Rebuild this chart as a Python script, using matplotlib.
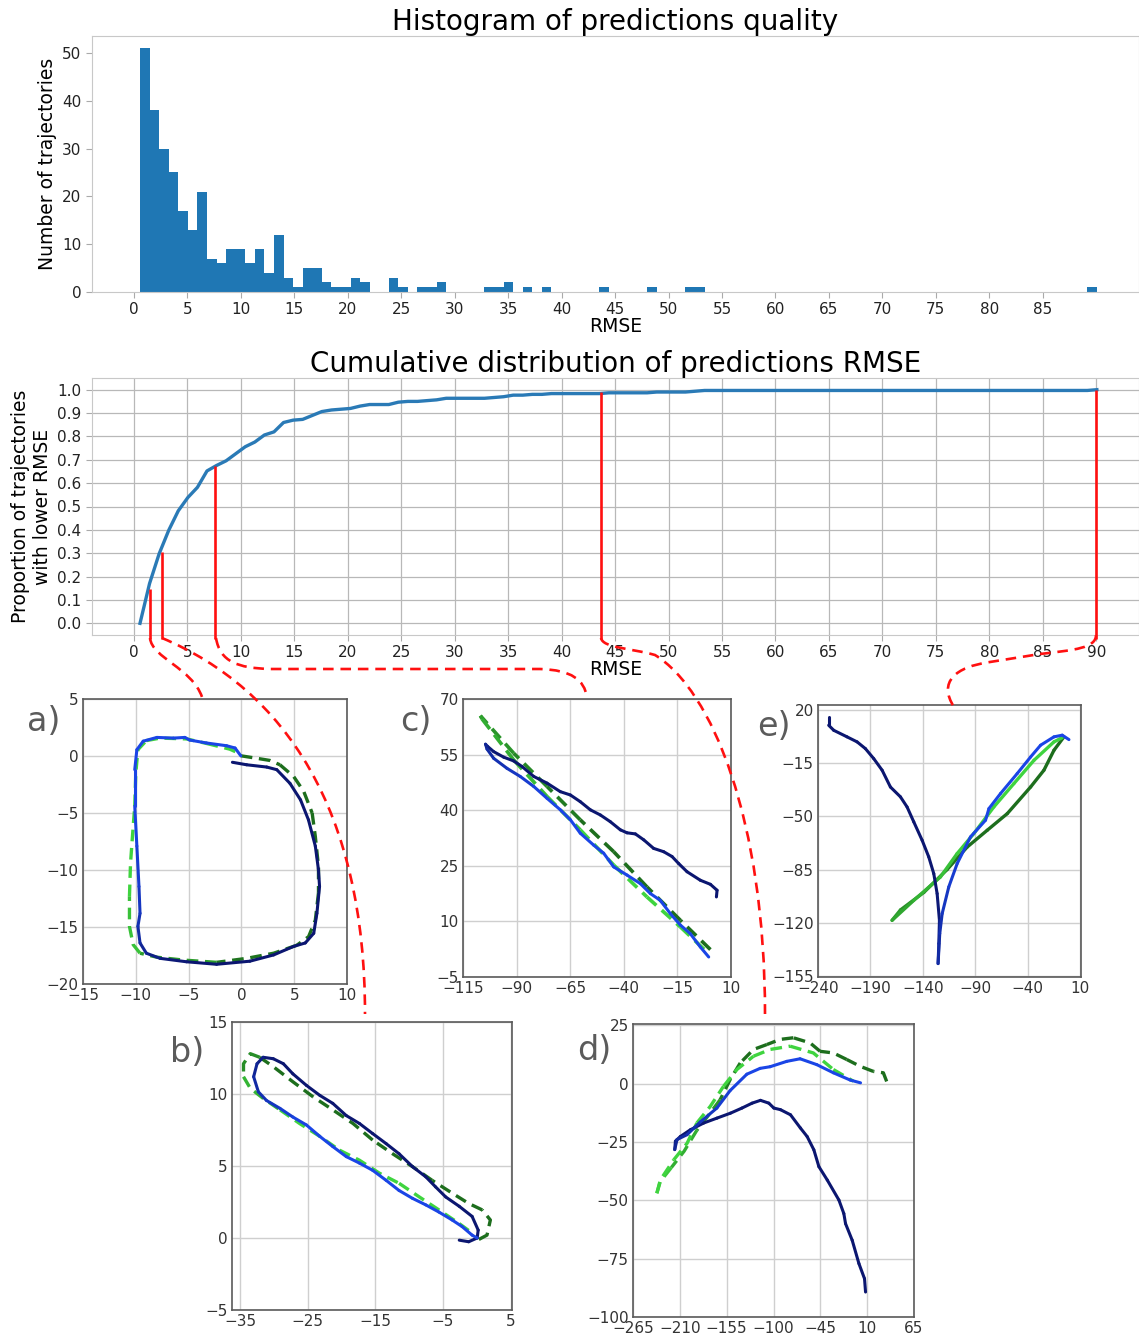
import numpy as np
import matplotlib
matplotlib.use("Agg")
import matplotlib.pyplot as plt
from matplotlib.path import Path
from matplotlib.patches import PathPatch
from matplotlib.colors import to_rgb

# ---------------- data ----------------
# histogram: 100 equal bins starting at 0.56, width 0.895
bin_start = 0.56
bin_width = 0.895
hist_counts = [51, 38, 30, 25, 17, 13, 21, 7, 6, 9,
               9, 6, 9, 4, 12, 3, 1, 5, 5, 2,
               1, 1, 3, 2, 0, 0, 3, 1, 0, 1,
               1, 2, 0, 0, 0, 0, 1, 1, 2, 0,
               1, 0, 1, 0, 0, 0, 0, 0, 1, 0,
               0, 0, 0, 1, 0, 0, 0, 1, 1, 0,
               0, 0, 0, 0, 0, 0, 0, 0, 0, 0,
               0, 0, 0, 0, 0, 0, 0, 0, 0, 0,
               0, 0, 0, 0, 0, 0, 0, 0, 0, 0,
               0, 0, 0, 0, 0, 0, 0, 0, 0, 1]

# selected trajectories marked on the CDF (RMSE, CDF value)
sel_rmse = [1.5, 2.6, 7.6, 43.7, 90.0]
sel_cdf = [0.145, 0.305, 0.675, 0.99, 1.0]

# trajectories (pred = navy -> blue, true = dark green -> light green)
a_pred_x = [-0.85, 0.5, 2.4, 3.35, 4.6, 5.6, 6.35, 7.0, 7.3, 7.4, 7.15, 6.85, 6.05, 4.95, 3.05, 0.8, -2.35,
            -5.2, -7.7, -9.0, -9.6, -9.8, -9.6, -9.7, -9.9, -10.1, -10.1, -9.9, -9.3, -8.0, -6.45, -5.35,
            -4.9, -3.3, -1.4, -0.6, -0.06]
a_pred_y = [-0.55, -0.77, -0.97, -1.2, -2.4, -3.85, -5.6, -7.9, -10.0, -11.45, -13.8, -15.55, -16.4, -16.7,
            -17.45, -18.0, -18.27, -18.05, -17.75, -17.3, -16.4, -14.95, -13.8, -11.45, -7.9, -4.4, -1.2,
            0.55, 1.3, 1.63, 1.57, 1.63, 1.4, 1.14, 0.9, 0.7, 0.02]
a_true_x = [-0.06, 1.45, 2.7, 3.65, 4.95, 5.9, 6.7, 7.0, 7.3, 7.3, 7.0, 6.36, 5.25, 3.05, 0.5, -2.35, -5.5,
            -8.0, -9.6, -10.25, -10.6, -10.6, -10.5, -10.25, -10.1, -10.0, -9.8, -9.0, -7.7, -5.2, -3.3,
            -1.1, -0.15]
a_true_y = [0.02, -0.2, -0.39, -0.77, -1.8, -3.1, -5.0, -7.06, -9.7, -12.0, -14.4, -15.85, -16.6, -17.3,
            -17.75, -18.1, -17.9, -17.65, -17.3, -16.55, -14.95, -12.3, -9.4, -6.2, -4.4, -1.5, 0.55,
            1.35, 1.57, 1.5, 1.1, 0.6, 0.2]

b_pred_x = [-2.6, -1.2, 0.05, 0.2, -0.7, -2.6, -4.6, -6.1, -7.55, -9.5, -11.5, -13.4, -15.4, -17.35, -19.3,
            -21.3, -23.2, -25.2, -27.2, -28.6, -30.1, -31.6, -32.5, -33.0, -32.3, -31.1, -29.1, -27.2,
            -25.2, -23.2, -21.3, -19.3, -17.35, -15.4, -13.4, -11.5, -9.5, -7.55, -5.6, -3.65, -2.2,
            -0.7, 0.05]
b_pred_y = [-0.15, -0.26, 0.0, 0.55, 1.5, 2.2, 2.85, 3.55, 4.25, 4.95, 5.85, 6.55, 7.25, 7.95, 8.5, 9.35,
            9.9, 10.6, 11.4, 12.1, 12.45, 12.55, 12.1, 11.2, 10.15, 9.55, 9.0, 8.4, 7.85, 7.05, 6.35,
            5.65, 5.2, 4.7, 4.0, 3.3, 2.75, 2.3, 1.8, 1.25, 0.8, 0.2, 0.0]
b_true_x = [0.3, 1.5, 2.0, 0.8, -1.2, -3.6, -6.6, -9.5, -12.45, -15.4, -18.3, -21.3, -24.2, -27.2, -30.1,
            -32.1, -33.5, -34.5, -34.5, -33.5, -31.6, -29.1, -26.2, -23.2, -20.3, -17.35, -14.4, -11.5,
            -8.5, -5.6, -2.6, -0.7]
b_true_y = [-0.1, 0.2, 1.25, 1.95, 2.4, 3.1, 4.0, 4.95, 5.85, 6.8, 7.95, 8.9, 9.8, 10.85, 11.9, 12.55,
            12.8, 12.1, 11.2, 10.4, 9.7, 8.9, 7.95, 7.05, 6.1, 5.4, 4.5, 3.8, 2.85, 1.95, 1.0, 0.35]

c_pred_x = [3.2, 3.5, 0.4, -4.3, -10.5, -14.4, -17.5, -21.4, -26.1, -30.7, -34.6, -38.5, -41.6, -46.3,
            -50.9, -55.6, -60.3, -64.9, -69.6, -75.8, -82.0, -87.5, -91.4, -96.0, -100.7, -103.5, -104.5,
            -103.8, -100.7, -94.5, -88.3, -82.0, -75.8, -69.6, -64.9, -60.3, -54.1, -49.4, -44.7, -38.5,
            -32.3, -27.6, -23.0, -18.3, -13.6, -9.0, -4.3, -0.4]
c_pred_y = [16.6, 18.4, 20.0, 21.1, 23.4, 25.6, 27.5, 28.8, 29.7, 32.0, 33.6, 33.9, 34.7, 36.9, 38.7, 40.1,
            42.3, 44.1, 45.0, 47.3, 49.1, 51.8, 53.3, 54.3, 55.8, 57.2, 57.8, 56.5, 54.0, 51.3, 49.1,
            46.4, 43.2, 40.1, 37.4, 33.8, 30.6, 28.4, 24.7, 22.5, 20.2, 17.5, 15.7, 12.1, 9.0, 6.7, 3.1,
            0.4]
c_true_x = [0.4, -13.6, -29.2, -44.7, -60.3, -75.8, -91.4, -106.9, -106.1, -91.4, -75.8, -60.3, -44.7,
            -29.2, -13.6, -0.4]
c_true_y = [2.4, 10.3, 19.3, 28.8, 37.4, 46.4, 55.4, 65.5, 64.6, 53.6, 43.7, 34.7, 25.2, 16.6, 8.5, 1.3]

d_pred_x = [8.1, 6.9, 0.3, -7.6, -15.4, -17.4, -23.2, -36.9, -46.7, -52.6, -60.5, -68.5, -80.0, -91.8,
            -99.6, -105.5, -115.3, -125.1, -137.0, -150.6, -166.3, -181.9, -197.6, -209.4, -215.2, -216.0,
            -213.3, -201.5, -186.1, -166.5, -150.9, -131.3, -115.7, -104.0, -84.4, -68.8, -49.2, -29.7,
            -10.0, 2.2]
d_pred_y = [-89.3, -83.6, -77.1, -67.1, -60.0, -55.7, -49.9, -41.3, -35.6, -28.4, -22.7, -19.0, -13.4,
            -11.2, -10.5, -8.4, -7.2, -8.4, -10.5, -12.7, -14.8, -16.9, -19.8, -22.7, -24.7, -28.3, -24.0,
            -21.9, -16.5, -10.5, -3.0, 4.0, 6.5, 7.2, 9.5, 10.6, 8.1, 4.6, 1.5, 0.3]
d_true_x = [32.9, 29.0, 17.2, 1.6, -14.0, -29.7, -45.3, -57.0, -76.6, -92.2, -107.8, -123.5, -139.1,
            -150.9, -162.6, -174.3, -190.0, -205.0, -220.0, -233.0, -237.0, -232.9, -217.2, -201.5,
            -190.0, -174.3, -158.7, -143.0, -123.5, -104.0, -80.5, -53.2, -29.7, -6.2]
d_true_y = [0.9, 4.6, 5.2, 7.4, 10.3, 13.1, 13.8, 17.4, 19.6, 18.9, 16.7, 14.6, 8.8, 1.7, -6.9, -12.6,
            -20.0, -29.0, -36.0, -42.0, -47.0, -41.3, -32.7, -25.6, -16.9, -9.8, -1.2, 6.0, 11.7, 14.6,
            16.0, 13.1, 6.0, 1.0]

e_pred_x = [-229.8, -229.8, -225.0, -212.3, -202.7, -194.8, -186.8, -178.8, -170.9, -161.3, -155.0, -148.6,
            -140.6, -134.3, -129.5, -126.3, -124.1, -124.7, -125.4, -123.8, -121.5, -115.2, -107.2, -94.5,
            -80.1, -76.9, -65.8, -49.9, -37.1, -27.6, -14.8, -6.9, -0.5]
e_pred_y = [15.2, 9.7, 6.4, 2.1, -1.2, -5.6, -12.2, -19.8, -30.8, -37.3, -43.9, -53.7, -65.8, -76.7, -87.7,
            -100.8, -118.3, -133.6, -146.7, -127.0, -113.9, -96.4, -81.1, -63.6, -52.6, -45.0, -35.1,
            -22.0, -11.1, -3.4, 2.1, 3.2, 0.3]
e_true_x = [-5.3, -14.8, -24.4, -37.1, -59.4, -78.5, -97.6, -116.8, -139.0, -161.3, -169.3, -148.6, -123.1,
            -107.2, -91.3, -72.2, -53.1, -33.9, -14.8, -6.9]
e_true_y = [2.1, -6.7, -19.8, -30.8, -48.3, -59.2, -70.2, -85.0, -100.0, -111.5, -118.3, -105.2, -89.8,
            -74.5, -61.4, -43.9, -28.6, -13.3, -1.2, 1.6]

# ---------------- style ----------------
W, H = 1139, 1337
NAVY, BLUE = "#0b1670", "#1a45e6"
DGREEN, LGREEN = "#1d6e1d", "#3fd43f"
RED = "#ff1010"


def px_rect(l, t, r, b):
    # axes rectangle from pixel edges (y measured from the top)
    return [l / W, 1 - b / H, (r - l) / W, (b - t) / H]


def grad_line(ax, xs, ys, c0, c1, split, dashed=False, lw=2.2, step=1):
    xs, ys = np.asarray(xs), np.asarray(ys)
    c0, c1 = np.array(to_rgb(c0)), np.array(to_rgb(c1))
    n = len(xs)
    for i in range(0, n - 1, step):
        j = min(i + step, n - 1)
        t = np.clip(((i + j) / 2 - split) / 8 + 0.5, 0, 1)
        col = c0 * (1 - t) + c1 * t
        if dashed:
            ax.plot(xs[i:j + 1], ys[i:j + 1], color=col, lw=lw, dashes=(3.5, 2), dash_capstyle="butt")
        else:
            ax.plot(xs[i:j + 1], ys[i:j + 1], color=col, lw=lw, solid_capstyle="round")


def panel(rect, xlim, ylim, xticks, yticks):
    ax = fig.add_axes(px_rect(*rect))
    ax.set_xlim(*xlim)
    ax.set_ylim(*ylim)
    ax.set_xticks(xticks)
    ax.set_yticks(yticks)
    ax.grid(True, color="#cfcfcf", lw=1.0)
    ax.set_axisbelow(True)
    ax.tick_params(length=0, pad=3, labelsize=11, labelcolor="#333333")
    for s in ax.spines.values():
        s.set_color("#5a5a5a")
        s.set_linewidth(1.2)
    return ax


fig = plt.figure(figsize=(W / 100, H / 100), dpi=100)

# ---------------- histogram ----------------
counts = np.array(hist_counts)
edges = bin_start + bin_width * np.arange(len(counts) + 1)

ax1 = fig.add_axes(px_rect(92, 36, 1139, 292))
ax1.bar(edges[:-1], counts, width=bin_width, align="edge", color="#1f77b4", linewidth=0)
ax1.set_xlim(-3.93, 94.0)
ax1.set_ylim(0, 53.55)
ax1.set_xticks(np.arange(0, 90, 5))
ax1.set_yticks(np.arange(0, 60, 10))
ax1.tick_params(color="#aaaaaa", labelcolor="#222222", labelsize=11, length=4)
for s in ax1.spines.values():
    s.set_color("#c8c8c8")
ax1.set_title("Histogram of predictions quality", fontsize=20, pad=4)
ax1.set_xlabel("RMSE", fontsize=13.5, labelpad=0)
ax1.set_ylabel("Number of trajectories", fontsize=13.5)

# ---------------- cumulative distribution ----------------
cdf = np.concatenate([[0], np.cumsum(counts)]) / counts.sum()

ax2 = fig.add_axes(px_rect(92, 378, 1139, 635))
ax2.plot(edges, cdf, color="#2a7ab6", lw=2.4, zorder=3)
ax2.set_xlim(-3.93, 94.0)
ax2.set_ylim(-0.05, 1.05)
ax2.set_xticks(np.arange(0, 95, 5))
ax2.set_yticks(np.arange(0, 1.05, 0.1))
ax2.set_yticklabels([f"{v:.1f}" for v in np.arange(0, 1.05, 0.1)])
ax2.grid(True, color="#b8b8b8", lw=0.9)
ax2.tick_params(color="#aaaaaa", labelcolor="#222222", labelsize=11, length=4)
for s in ax2.spines.values():
    s.set_color("#c8c8c8")
ax2.vlines(sel_rmse, -0.065, sel_cdf, color=RED, lw=1.9, clip_on=False, zorder=5)
ax2.set_title("Cumulative distribution of predictions RMSE", fontsize=20, pad=4)
ax2.set_xlabel("RMSE", fontsize=13.5, labelpad=0)
ax2.set_ylabel("Proportion of trajectories\nwith lower RMSE", fontsize=13.5)

# ---------------- trajectory panels ----------------
axa = panel((83, 699, 347, 984), (-15, 10), (-20, 5), np.arange(-15, 11, 5), np.arange(-20, 6, 5))
grad_line(axa, a_true_x, a_true_y, DGREEN, LGREEN, 17, dashed=True, lw=2.4, step=3)
grad_line(axa, a_pred_x, a_pred_y, NAVY, BLUE, 21)

axc = panel((463, 699, 731, 977), (-115, 10), (-5, 70), np.arange(-115, 11, 25), np.arange(-5, 71, 15))
grad_line(axc, c_true_x, c_true_y, DGREEN, LGREEN, 7.5, dashed=True, lw=2.6, step=1)
grad_line(axc, c_pred_x, c_pred_y, NAVY, BLUE, 28)

axe = panel((818, 705, 1081, 977), (-240, 11), (-155.5, 23), np.arange(-240, 11, 50), np.arange(-155, 21, 35))
grad_line(axe, e_true_x, e_true_y, DGREEN, LGREEN, 10, lw=2.4)
grad_line(axe, e_pred_x, e_pred_y, NAVY, BLUE, 19)

axb = panel((232, 1022, 512, 1310), (-36.2, 5.2), (-5, 15), np.arange(-35, 6, 10), np.arange(-5, 16, 5))
grad_line(axb, b_true_x, b_true_y, DGREEN, LGREEN, 18, dashed=True, lw=2.4, step=3)
grad_line(axb, b_pred_x, b_pred_y, NAVY, BLUE, 24)

axd = panel((633, 1024, 914, 1317), (-265, 65), (-100, 25.5), np.arange(-265, 66, 55), np.arange(-100, 26, 25))
grad_line(axd, d_true_x, d_true_y, DGREEN, LGREEN, 16, dashed=True, lw=2.4, step=2)
grad_line(axd, d_pred_x, d_pred_y, NAVY, BLUE, 27)

# ---------------- overlay: connectors and panel letters ----------------
ov = fig.add_axes([0, 0, 1, 1], zorder=10)
ov.set_xlim(0, W)
ov.set_ylim(H, 0)
ov.axis("off")
ov.patch.set_alpha(0)

M, L, C = Path.MOVETO, Path.LINETO, Path.CURVE4
connectors = [
    ([(150, 638), (152, 658), (192, 668), (202, 697)], [M, C, C, C]),
    ([(162, 638), (285, 690), (365, 810), (365, 1014)], [M, C, C, C]),
    ([(216, 638), (220, 662), (238, 668), (270, 669), (540, 669), (572, 670), (584, 680), (587, 697)],
     [M, C, C, C, L, C, C, C]),
    ([(601, 638), (603, 648), (630, 648), (655, 655), (712, 690), (765, 820), (765, 1014)],
     [M, C, C, C, C, C, C]),
    ([(1096, 635), (1096, 648), (1075, 650), (1040, 654), (990, 662), (955, 667), (938, 682), (954, 707)],
     [M, C, C, C, L, C, C, C]),
]
for verts, codes in connectors:
    ov.add_patch(PathPatch(Path(verts, codes), facecolor="none", edgecolor=RED, lw=1.9,
                           linestyle=(0, (4, 2.6))))

for lab, x, y in [("a)", 27, 731), ("c)", 400, 731), ("e)", 757, 736), ("b)", 170, 1062), ("d)", 577, 1060)]:
    ov.text(x, y, lab, fontsize=24, color="#5b5b5b", ha="left", va="baseline")

fig.savefig("out.png", dpi=100)
